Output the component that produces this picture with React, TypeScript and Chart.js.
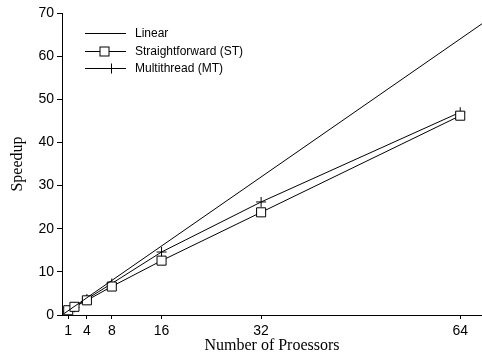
import React, { useEffect, useRef } from "react";
import { Chart, registerables } from "chart.js";

Chart.register(...registerables);

const processors = [1, 2, 4, 8, 16, 32, 64];
const stSpeedup = [1.1, 1.9, 3.4, 6.6, 12.6, 23.8, 46.2];
const mtSpeedup = [0.8, 1.8, 3.7, 7.3, 14.6, 26.2, 47.0];
const linearX = [0, 67.5];
const xTickValues = [1, 4, 8, 16, 32, 64];
const legendLabels = ["Linear", "Straightforward (ST)", "Multithread (MT)"];

const SANS = "'Liberation Sans', Arial, sans-serif";
const SERIF = "'Liberation Serif', 'Times New Roman', serif";

const legendPlugin = {
  id: "inlineLegend",
  afterDraw(chart: any) {
    const ctx = chart.ctx;
    ctx.save();
    ctx.strokeStyle = "#000";
    ctx.fillStyle = "#000";
    ctx.lineWidth = 1;
    ctx.font = `12px ${SANS}`;
    ctx.textBaseline = "middle";
    const x0 = 85;
    const x1 = 126;
    const rows = [33.5, 51.5, 68.5];
    legendLabels.forEach((label, i) => {
      const y = rows[i];
      ctx.beginPath();
      ctx.moveTo(x0, y);
      ctx.lineTo(x1, y);
      ctx.stroke();
      if (i === 1) {
        ctx.fillStyle = "#fff";
        ctx.fillRect(100, y - 4.5, 9, 9);
        ctx.strokeRect(100, y - 4.5, 9, 9);
        ctx.fillStyle = "#000";
      } else if (i === 2) {
        ctx.beginPath();
        ctx.moveTo(111.5, y - 5);
        ctx.lineTo(111.5, y + 5);
        ctx.moveTo(106.5, y);
        ctx.lineTo(116.5, y);
        ctx.stroke();
      }
      ctx.fillText(label, 135, y + 0.5);
    });
    ctx.restore();
  },
};

export default function App() {
  const ref = useRef<HTMLCanvasElement | null>(null);
  useEffect(() => {
    if (!ref.current) return;
    const chart = new Chart(ref.current, {
      type: "line",
      data: {
        datasets: [
          {
            label: legendLabels[0],
            data: linearX.map((v) => ({ x: v, y: v })),
            borderColor: "#000",
            borderWidth: 1,
            pointRadius: 0,
            pointHoverRadius: 0,
            fill: false,
          },
          {
            label: legendLabels[1],
            data: processors.map((p, i) => ({ x: p, y: stSpeedup[i] })),
            borderColor: "#000",
            borderWidth: 1,
            pointStyle: "rect",
            pointRadius: 6.4,
            pointBorderWidth: 1,
            pointBorderColor: "#000",
            pointBackgroundColor: "#fff",
            fill: false,
          },
          {
            label: legendLabels[2],
            data: processors.map((p, i) => ({ x: p, y: mtSpeedup[i] })),
            borderColor: "#000",
            borderWidth: 1,
            pointStyle: "cross",
            pointRadius: 5,
            pointBorderWidth: 1,
            pointBorderColor: "#000",
            fill: false,
          },
        ],
      },
      options: {
        animation: false,
        responsive: false,
        devicePixelRatio: 1,
        layout: { autoPadding: false, padding: { top: 13, right: 0, left: 0, bottom: 0 } },
        plugins: {
          legend: { display: false },
          tooltip: { enabled: false },
        },
        scales: {
          x: {
            type: "linear",
            min: 0,
            max: 67.5,
            afterBuildTicks: (scale: any) => {
              scale.ticks = xTickValues.map((v) => ({ value: v }));
            },
            afterFit: (scale: any) => {
              scale.height = 40;
            },
            grid: {
              drawOnChartArea: false,
              drawTicks: true,
              tickLength: 4,
              color: "#000",
            },
            border: { display: true, color: "#000", width: 1 },
            ticks: {
              color: "#000",
              font: { family: SANS, size: 14 },
              padding: 4,
              maxRotation: 0,
              autoSkip: false,
            },
            title: {
              display: true,
              text: "Number of Proessors",
              color: "#000",
              font: { family: SERIF, size: 16 },
              padding: { top: 0, bottom: 0 },
            },
          },
          y: {
            min: 0,
            max: 70,
            afterFit: (scale: any) => {
              scale.width = 62;
            },
            grid: {
              drawOnChartArea: false,
              drawTicks: true,
              tickLength: 5,
              color: "#000",
            },
            border: { display: true, color: "#000", width: 1 },
            ticks: {
              stepSize: 10,
              color: "#000",
              font: { family: SANS, size: 14 },
              padding: 3,
            },
            title: {
              display: true,
              text: "Speedup",
              color: "#000",
              font: { family: SERIF, size: 16 },
              padding: { top: 8, bottom: 0 },
            },
          },
        },
      },
      plugins: [legendPlugin],
    } as any);
    return () => chart.destroy();
  }, []);
  return (
    <div style={{ position: "absolute", left: 0, top: 0, width: 482, height: 355, background: "#fff" }}>
      <canvas ref={ref} width={482} height={355} style={{ display: "block" }} />
    </div>
  );
}
